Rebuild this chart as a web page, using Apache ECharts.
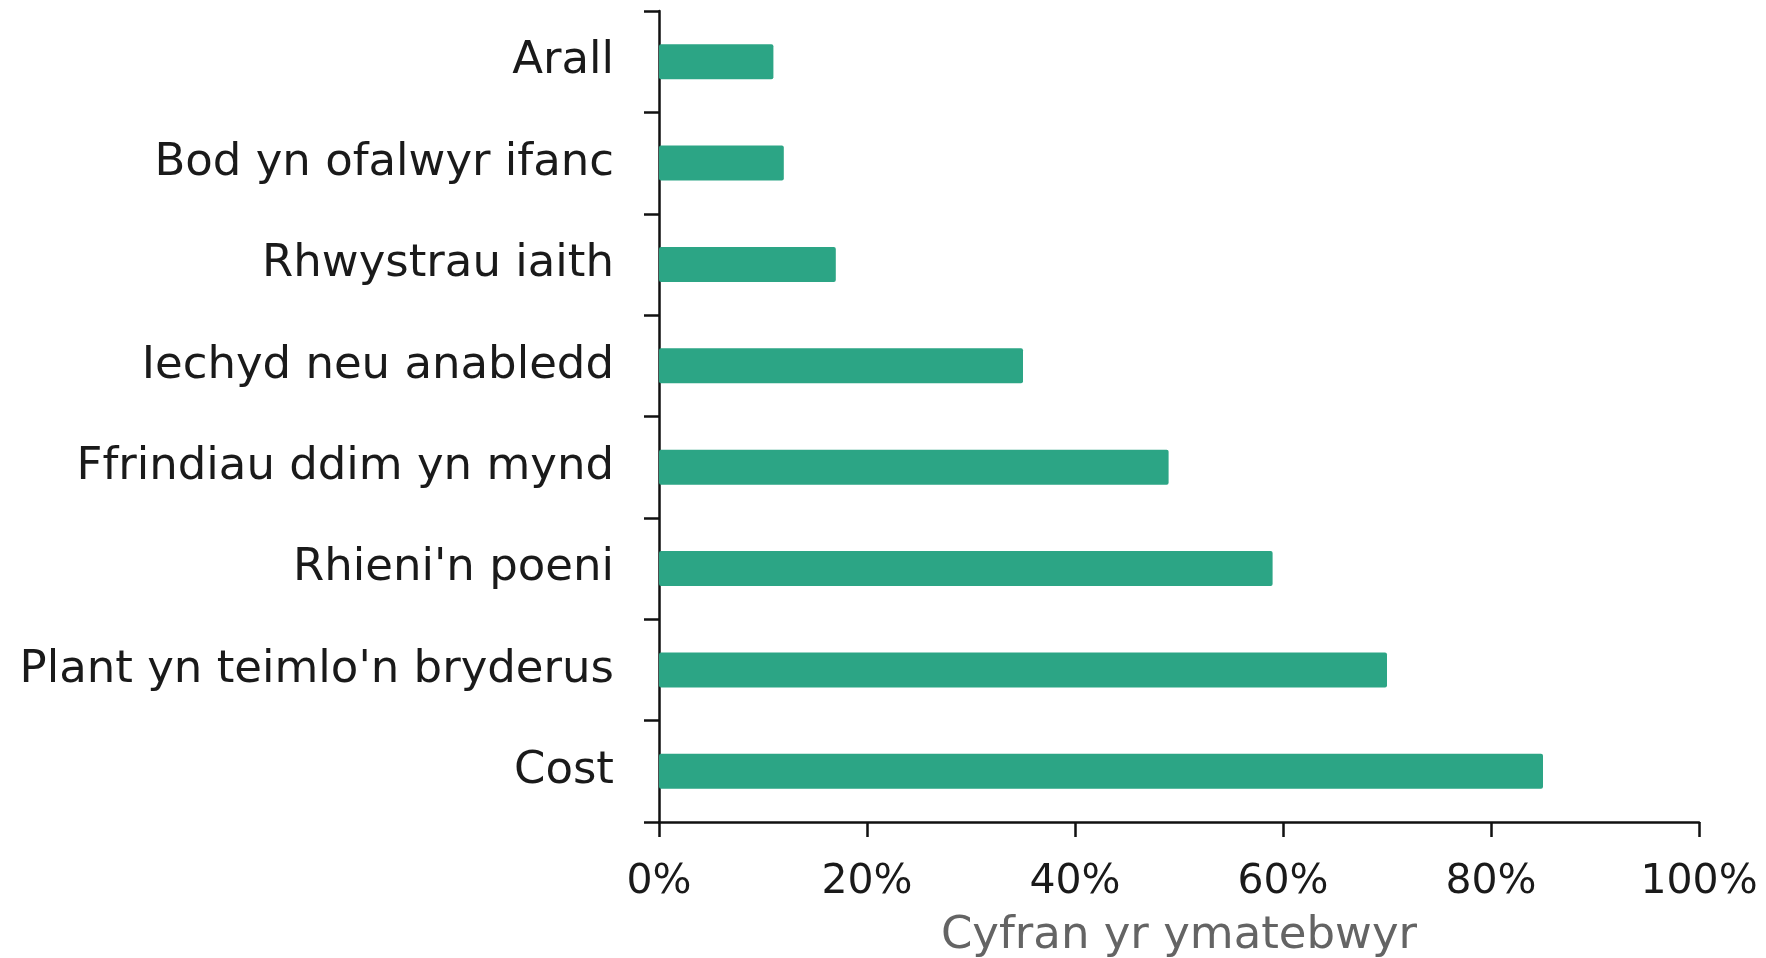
<!DOCTYPE html>
<html>
<head>
<meta charset="utf-8">
<script src="https://cdn.jsdelivr.net/npm/echarts@6/dist/echarts.min.js"></script>
<style>
html,body{margin:0;padding:0;background:#fff;}
#chart{width:1766px;height:958px;}
</style>
</head>
<body>
<div id="chart"></div>
<script>
const categories = ["Cost", "Plant yn teimlo'n bryderus", "Rhieni'n poeni", "Ffrindiau ddim yn mynd", "Iechyd neu anabledd", "Rhwystrau iaith", "Bod yn ofalwyr ifanc", "Arall"];
const values = [85, 70, 59, 49, 35, 17, 12, 11];
const xTicks = [0, 20, 40, 60, 80, 100];
const xAxisName = "Cyfran yr ymatebwyr";

const chart = echarts.init(document.getElementById('chart'), null, {renderer: 'canvas'});
const font = 'DejaVu Sans';
chart.setOption({
  animation: false,
  backgroundColor: '#ffffff',
  grid: {left: 659, right: 67, top: 11, bottom: 136, containLabel: false, outerBoundsMode: 'none'},
  xAxis: {
    type: 'value',
    min: xTicks[0],
    max: xTicks[xTicks.length - 1],
    interval: xTicks[1] - xTicks[0],
    name: xAxisName,
    nameLocation: 'middle',
    nameGap: 92,
    nameTextStyle: {fontFamily: font, fontSize: 45, color: '#646464'},
    axisLine: {show: true, lineStyle: {color: '#111', width: 2.5}},
    axisTick: {show: true, length: 15, lineStyle: {color: '#111', width: 2.5}},
    axisLabel: {margin: 40, fontFamily: font, fontSize: 41, color: '#1a1a1a', formatter: v => v + '%'},
    splitLine: {show: false}
  },
  yAxis: {
    type: 'category',
    data: categories,
    axisLine: {show: true, lineStyle: {color: '#111', width: 2.5}},
    axisTick: {show: true, length: 15, lineStyle: {color: '#111', width: 2.5}},
    axisLabel: {margin: 45, fontFamily: font, fontSize: 45, color: '#1a1a1a'}
  },
  series: [{
    type: 'bar',
    data: values,
    barWidth: 35,
    itemStyle: {color: '#2ca585', borderRadius: 2}
  }]
});
</script>
</body>
</html>
